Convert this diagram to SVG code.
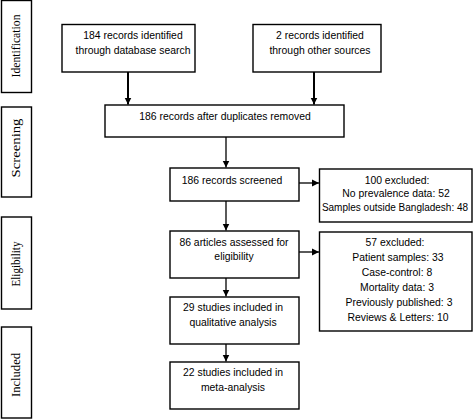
<svg xmlns="http://www.w3.org/2000/svg" width="473" height="420" viewBox="0 0 473 420">
<defs>
<marker id="ah" markerUnits="userSpaceOnUse" markerWidth="8" markerHeight="8" refX="7" refY="4" orient="auto">
<path d="M0,0.5 L7,4 L0,7.5 Z" fill="#000"/>
</marker>
<style>
.box{fill:#fff;stroke:#000;stroke-width:1.4}
.t{font-family:"Liberation Sans",Arial,sans-serif;font-size:10.4px;fill:#000;text-anchor:middle}
.s{font-size:10px}
.lab{font-family:"Liberation Serif","Times New Roman",serif;font-size:12px;fill:#000;text-anchor:middle}
.c{stroke:#000;stroke-width:1.3;fill:none}
.c2{stroke:#000;stroke-width:2;fill:none}
</style>
</defs>
<rect width="473" height="420" fill="#fff"/>
<g id="stage-identification"><rect class="box" x="1.5" y="0.5" width="30" height="92"/><text class="lab" transform="translate(20,46) rotate(-90)" textLength="63" lengthAdjust="spacingAndGlyphs">Identification</text></g>
<g id="stage-screening"><rect class="box" x="1.5" y="107" width="30" height="90"/><text class="lab" transform="translate(20,148) rotate(-90)" textLength="59" lengthAdjust="spacingAndGlyphs">Screening</text></g>
<g id="stage-eligibility"><rect class="box" x="1.5" y="217" width="30" height="92"/><text class="lab" transform="translate(20,264) rotate(-90)" textLength="45" lengthAdjust="spacingAndGlyphs">Eligibility</text></g>
<g id="stage-included"><rect class="box" x="1.5" y="327" width="30" height="91"/><text class="lab" transform="translate(20,375) rotate(-90)" textLength="44" lengthAdjust="spacingAndGlyphs">Included</text></g>

<g id="db-search"><rect class="box" x="62" y="24.5" width="133" height="47.5"/><text class="t" x="133" y="39">184 records identified</text><text class="t" x="133" y="54">through database search</text></g>
<g id="other-sources"><rect class="box" x="253" y="24.5" width="128" height="47.5"/><text class="t" x="320" y="39">2 records identified</text><text class="t" x="320" y="54">through other sources</text></g>
<g id="dedup"><rect class="box" x="105" y="105" width="239" height="32"/><text class="t" x="225" y="120">186 records after duplicates removed</text></g>
<g id="screened"><rect class="box" x="170" y="168" width="129" height="33"/><text class="t" x="232" y="184">186 records screened</text></g>
<g id="excluded-1"><rect class="box" x="319.5" y="169" width="152.5" height="53"/><text class="t" x="397" y="184">100 excluded:</text><text class="t" x="396" y="197">No prevalence data: 52</text><text class="t s" x="395" y="211">Samples outside Bangladesh: 48</text></g>
<g id="assessed"><rect class="box" x="170" y="231" width="129" height="47"/><text class="t" x="234" y="246">86 articles assessed for</text><text class="t" x="234" y="260">eligibility</text></g>
<g id="excluded-2"><rect class="box" x="319.5" y="232" width="152.5" height="99"/><text class="t" x="395" y="246">57 excluded:</text><text class="t" x="398" y="261">Patient samples: 33</text><text class="t" x="397" y="276">Case-control: 8</text><text class="t" x="397" y="291">Mortality data: 3</text><text class="t" x="399" y="306">Previously published: 3</text><text class="t" x="398" y="321">Reviews &amp; Letters: 10</text></g>
<g id="qualitative"><rect class="box" x="170" y="297" width="129" height="47"/><text class="t" x="233" y="311">29 studies included in</text><text class="t" x="233" y="326">qualitative analysis</text></g>
<g id="meta"><rect class="box" x="170" y="362" width="129" height="47"/><text class="t" x="233" y="376">22 studies included in</text><text class="t" x="233" y="391">meta-analysis</text></g>

<g id="connectors">
<line class="c2" x1="128" y1="72" x2="128" y2="104.5" marker-end="url(#ah)"/>
<line class="c2" x1="314" y1="72" x2="314" y2="104.5" marker-end="url(#ah)"/>
<line class="c" x1="226" y1="137" x2="226" y2="167.5" marker-end="url(#ah)"/>
<line class="c" x1="299" y1="183" x2="319" y2="183" marker-end="url(#ah)"/>
<line class="c" x1="226" y1="201" x2="226" y2="230.5" marker-end="url(#ah)"/>
<line class="c" x1="299" y1="252" x2="319" y2="252" marker-end="url(#ah)"/>
<line class="c" x1="226" y1="278" x2="226" y2="296.5" marker-end="url(#ah)"/>
<line class="c" x1="226" y1="344" x2="226" y2="361.5" marker-end="url(#ah)"/>
</g>
</svg>
